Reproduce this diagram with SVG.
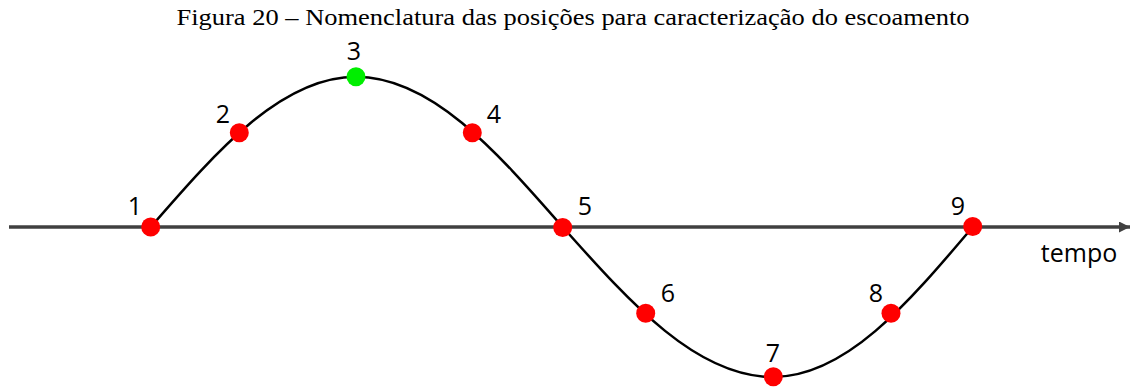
<svg xmlns="http://www.w3.org/2000/svg" width="1139" height="387" viewBox="0 0 1139 387">
<defs>
<style>
.lbl{font-family:"Open Sans","Liberation Sans",sans-serif;font-size:25px;fill:#000;text-anchor:middle}
.title{font-family:"Liberation Serif","Times New Roman",serif;font-size:23.5px;fill:#000;text-anchor:middle}
.red{fill:#ff0000}
.green{fill:#00ee00}
</style>
<marker id="arr" markerWidth="12" markerHeight="12" refX="11" refY="5.5" orient="auto" markerUnits="userSpaceOnUse">
<path d="M0,0 L11,5.5 L0,11 Z" fill="#404040"/>
</marker>
</defs>
<rect width="1139" height="387" fill="#fff"/>
<text class="title" x="573" y="25" textLength="793" lengthAdjust="spacingAndGlyphs">Figura 20 – Nomenclatura das posições para caracterização do escoamento</text>
<g id="connectors">
<line x1="9" y1="227" x2="1130" y2="227" stroke="#404040" stroke-width="3.5" marker-end="url(#arr)"/>
<path d="M150.7,227 C217.6,150 281.7,76.7 356,76.7 C430.8,76.7 495.3,150 562.7,227 C631.3,304 696.9,377 773,377 C845.3,377 907.6,304 972.7,227" fill="none" stroke="#000" stroke-width="2.5"/>
</g>
<text class="lbl" x="1079" y="262">tempo</text>
<g id="p1"><circle class="red" cx="150.7" cy="227" r="9.5"/><text class="lbl" x="135" y="215">1</text></g>
<g id="p2"><circle class="red" cx="239.3" cy="132.7" r="9.5"/><text class="lbl" x="223" y="123">2</text></g>
<g id="p3"><circle class="green" cx="356" cy="76.7" r="9.5"/><text class="lbl" x="354" y="60">3</text></g>
<g id="p4"><circle class="red" cx="472.3" cy="132.7" r="9.5"/><text class="lbl" x="494" y="123">4</text></g>
<g id="p5"><circle class="red" cx="562.7" cy="227.5" r="9.5"/><text class="lbl" x="585" y="215">5</text></g>
<g id="p6"><circle class="red" cx="645.7" cy="313.3" r="9.5"/><text class="lbl" x="668" y="302">6</text></g>
<g id="p7"><circle class="red" cx="773.3" cy="376.7" r="9.5"/><text class="lbl" x="773" y="362">7</text></g>
<g id="p8"><circle class="red" cx="891" cy="313.3" r="9.5"/><text class="lbl" x="876" y="302">8</text></g>
<g id="p9"><circle class="red" cx="972.7" cy="226.5" r="9.5"/><text class="lbl" x="958" y="215">9</text></g>
</svg>
